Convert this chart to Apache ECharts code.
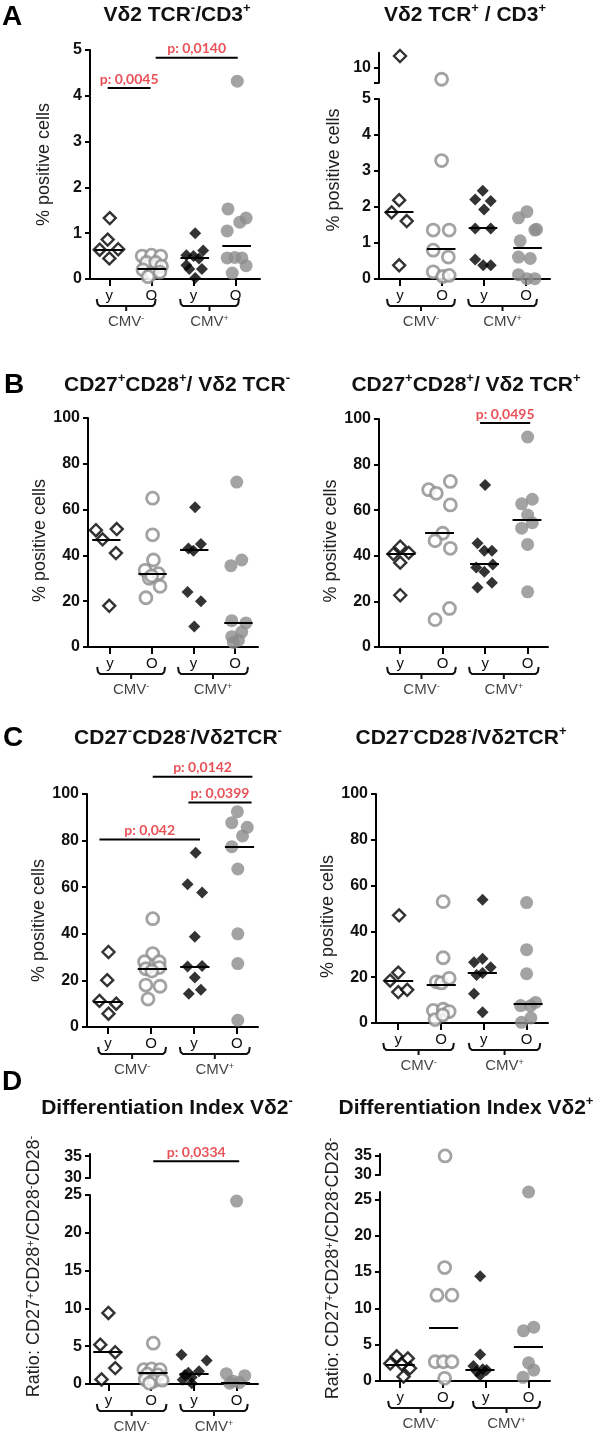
<!DOCTYPE html>
<html>
<head>
<meta charset="utf-8">
<script src="https://cdn.jsdelivr.net/npm/echarts@6/dist/echarts.min.js"></script>
<style>
html, body { margin: 0; padding: 0; background: #fff; }
#main { width: 600px; height: 1435px; }
</style>
</head>
<body>
<div id="main"></div>
<script>
// groups on the x axis: 1 = young CMV-, 2 = old CMV-, 3 = young CMV+, 4 = old CMV+
var GROUP_LABELS = ['y', 'O', 'y', 'O'];
var CMV_LABELS = ['CMV{s|-}', 'CMV{s|+}'];
var TITLES = [
    'Vδ2 TCR{s|-}/CD3{s|+}', 'Vδ2 TCR{s|+} / CD3{s|+}',
    'CD27{s|+}CD28{s|+}/ Vδ2 TCR{s|-}', 'CD27{s|+}CD28{s|+}/ Vδ2 TCR{s|+}',
    'CD27{s|-}CD28{s|-}/Vδ2TCR{s|-}', 'CD27{s|-}CD28{s|-}/Vδ2TCR{s|+}',
    'Differentiation Index Vδ2{s|-}', 'Differentiation Index Vδ2{s|+}'
];
var Y_NAMES = ['% positive cells', 'Ratio: CD27{s|+}CD28{s|+}/CD28{s|-}CD28{s|-}'];
var LETTERS = ['A', 'B', 'C', 'D'];

// A left: Vd2 TCR- / CD3+   [x slot, % positive]
var A1_yNeg = [[1.01,1.33],[0.96,0.86],[0.77,0.64],[1.21,0.65],[1.00,0.45]];
var A1_oNeg = [[1.78,0.50],[2.00,0.52],[2.22,0.50],[1.88,0.36],[2.10,0.36],[2.24,0.28],[1.80,0.20],[2.00,0.12],[2.20,0.15],[1.92,0.05]];
var A1_yPos = [[3.04,1.00],[3.23,0.62],[2.83,0.52],[3.00,0.50],[3.13,0.45],[2.83,0.30],[3.20,0.22],[2.90,0.22],[3.04,0.02]];
var A1_oPos = [[4.04,4.32],[3.82,1.53],[4.25,1.33],[4.10,1.24],[3.80,1.05],[3.80,0.46],[3.98,0.47],[4.15,0.46],[4.25,0.29],[3.92,0.13]];
var A1_medians = [0.63, 0.23, 0.47, 0.73];
var A1_pvalues = [{from:0.96, to:1.98, y:4.17, text:'p: 0,0045'}, {from:2.1, to:4.05, y:4.83, text:'p: 0,0140'}];

// A right: Vd2 TCR+ / CD3+
var A2_yNeg = [[1.00,10.78],[0.98,2.19],[0.80,1.85],[1.16,1.61],[0.98,0.38]];
var A2_oNeg = [[1.99,9.23],[1.99,3.29],[1.79,1.36],[2.17,1.36],[1.79,0.80],[2.15,0.61],[1.79,0.20],[2.02,0.07],[2.17,0.10]];
var A2_yPos = [[2.97,2.45],[2.79,2.21],[3.16,2.17],[3.00,1.93],[2.79,1.40],[3.16,1.40],[2.79,0.54],[2.98,0.38],[3.16,0.38]];
var A2_oPos = [[4.02,1.87],[3.82,1.70],[4.21,1.36],[4.25,1.38],[3.86,1.06],[3.82,0.61],[4.10,0.57],[3.82,0.12],[4.02,0.01],[4.21,0.01]];
var A2_medians = [1.87, 0.85, 1.43, 0.86];

// B left: CD27+CD28+ / Vd2 TCR-
var B1_yNeg = [[0.66,51],[0.82,47],[1.16,51.5],[1.14,41],[0.98,18]];
var B1_oNeg = [[2.02,65],[2.02,49],[2.04,38],[1.84,33.5],[1.94,30],[2.16,32],[2.20,26.5],[1.86,21.5],[2.00,31]];
var B1_yPos = [[3.04,61],[2.88,43],[3.00,42],[3.18,45],[2.86,24],[3.18,20],[3.02,9]];
var B1_oPos = [[4.04,72],[4.16,38],[3.90,35.5],[3.92,11.5],[4.26,10.5],[4.16,6.5],[3.92,4.5],[4.08,3],[3.96,2]];
var B1_medians = [47, 32, 42.5, 10.5];

// B right: CD27+CD28+ / Vd2 TCR+
var B2_yNeg = [[1.00,44],[0.84,40.8],[1.20,41.3],[1.00,37],[1.00,22.7]];
var B2_oNeg = [[1.67,69],[1.85,67.4],[2.18,72.6],[2.18,62.3],[2.00,49.9],[1.82,46.6],[2.18,43.3],[1.82,12],[2.16,16.9]];
var B2_yPos = [[3.00,71.1],[2.82,45.5],[2.98,42.2],[3.16,42.2],[2.79,34.9],[2.98,33],[3.18,36.2],[2.82,26.1],[3.16,28.2]];
var B2_oPos = [[4.00,92.1],[3.86,62.8],[4.11,64.8],[4.00,57.9],[3.86,52.1],[4.11,54.5],[4.00,45],[4.00,24.2]];
var B2_medians = [41, 50, 36.5, 56];
var B2_pvalues = [{from:2.88, to:4.06, y:98.2, text:'p: 0,0495'}];

// C left: CD27-CD28- / Vd2 TCR-
var C1_yNeg = [[1.01,32.2],[0.98,20.1],[0.80,11.2],[1.19,10.0],[1.01,5.7]];
var C1_oNeg = [[2.04,46.5],[2.04,31.5],[1.85,28],[2.19,28],[1.88,25],[2.19,25.5],[2.02,24],[1.88,18],[2.21,17.5],[1.93,12]];
var C1_yPos = [[3.04,74.8],[2.85,61.3],[3.19,57.7],[3.02,38.7],[2.85,26],[3.19,26.2],[3.02,21.2],[2.88,14.3],[3.16,16]];
var C1_oPos = [[4.01,92.4],[3.88,87.7],[4.24,85.7],[4.13,82],[3.88,77.4],[4.02,67.8],[4.02,40],[4.02,27.2],[4.02,2.9]];
var C1_medians = [10.8, 24.8, 25.8, 77.2];
var C1_pvalues = [
    {from:0.80, to:3.14, y:80.5, text:'p: 0,042'},
    {from:2.87, to:4.34, y:96.4, text:'p: 0,0399'},
    {from:2.04, to:4.36, y:107.4, text:'p: 0,0142'}
];

// C right: CD27-CD28- / Vd2 TCR+
var C2_yNeg = [[1.02,47],[1.00,22],[0.81,18.5],[1.00,13.5],[1.21,14.5]];
var C2_oNeg = [[2.05,53],[2.05,28.5],[1.89,18],[2.01,17.5],[2.19,19.5],[1.82,5.5],[2.05,6],[2.19,5],[1.86,1.5],[2.04,3.5]];
var C2_yPos = [[2.97,53.8],[2.77,26.5],[2.97,28.1],[3.16,24.3],[2.97,21.8],[2.83,21],[2.77,12.8],[2.97,4.7]];
var C2_oPos = [[4.00,52.6],[4.00,32],[4.00,21.5],[3.86,7.6],[4.21,9],[4.09,7.5],[3.88,0.3],[4.10,2.2]];
var C2_medians = [18.5, 16.8, 22, 8.2];

// D left: differentiation index Vd2-
var D1_yNeg = [[1.00,9.4],[0.81,5.2],[1.16,4.2],[1.16,2.1],[0.84,0.6]];
var D1_oNeg = [[2.05,5.4],[1.83,1.9],[2.01,2.0],[2.21,1.9],[1.91,1.3],[2.16,1.2],[1.86,0.6],[2.06,0.4],[2.26,0.5],[1.96,0.1]];
var D1_yPos = [[2.71,3.87],[3.30,3.1],[3.12,1.67],[2.79,1.2],[2.95,0.9],[2.74,0.57],[2.95,0.1],[2.87,1.5]];
var D1_oPos = [[4.00,24.2],[3.76,1.36],[4.19,1.1],[3.92,0.35],[4.07,0.2],[3.84,0.1]];
var D1_medians = [4.2, 1.5, 1.3, 0.2];
var D1_pvalues = [{from:2.05, to:4.06, y:33.85, text:'p: 0,0334'}];

// D right: differentiation index Vd2+
var D2_yNeg = [[0.92,3.4],[1.18,3.1],[0.77,2.4],[1.23,1.75],[1.04,2.3],[1.08,0.6]];
var D2_oNeg = [[2.05,35],[2.04,15.6],[1.86,11.8],[2.21,11.8],[1.82,2.65],[2.01,2.65],[2.21,2.65],[2.04,0.37]];
var D2_yPos = [[2.87,14.4],[2.87,3.66],[2.71,2.06],[3.02,1.5],[2.87,0.8],[2.93,1.6],[2.79,1.3]];
var D2_oPos = [[4.00,26],[3.88,6.9],[4.12,7.4],[4.00,2.5],[4.12,1.5],[3.87,0.5]];
var D2_medians = [2.3, 7.3, 1.6, 4.7];

var FONT = "'Liberation Sans', Arial, sans-serif";
var TICKS_5 = [0, 1, 2, 3, 4, 5];
var TICKS_100 = [0, 20, 40, 60, 80, 100];
var TICKS_25 = [0, 5, 10, 15, 20, 25];

var panels = [
    {groups:[A1_yNeg, A1_oNeg, A1_yPos, A1_oPos], medians:A1_medians, pvalues:A1_pvalues, title:TITLES[0], yName:Y_NAMES[0],
     L:{left:90, top:50, width:170, height:229, xMin:0.54, xMax:4.58, yMax:5, yTicks:TICKS_5, nameGap:37, namePad:[0,0,0,0],
        brackets:[[0.70,2.10],[2.68,4.08]], titleAt:[177,15]}},
    {groups:[A2_yNeg, A2_oNeg, A2_yPos, A2_oPos], medians:A2_medians, pvalues:[], title:TITLES[1], yName:Y_NAMES[0],
     L:{left:379, top:99, width:171, height:180, xMin:0.50, xMax:4.57, yMax:5, yTicks:TICKS_5, nameGap:36, namePad:[0,0,0,38],
        upper:{top:52.7, height:30, min:9, max:11, ticks:[9,10], labels:[10]},
        brackets:[[0.69,2.31],[2.62,4.26]], titleAt:[465,15]}},
    {groups:[B1_yNeg, B1_oNeg, B1_yPos, B1_oPos], medians:B1_medians, pvalues:[], title:TITLES[2], yName:Y_NAMES[0],
     L:{left:88, top:418, width:170, height:229, xMin:0.47, xMax:4.55, yMax:100, yTicks:TICKS_100, nameGap:35, namePad:[0,16,0,0],
        brackets:[[0.69,2.32],[2.63,4.31]], titleAt:[177,385]}},
    {groups:[B2_yNeg, B2_oNeg, B2_yPos, B2_oPos], medians:B2_medians, pvalues:B2_pvalues, title:TITLES[3], yName:Y_NAMES[0],
     L:{left:379, top:419, width:169, height:228, xMin:0.50, xMax:4.48, yMax:100, yTicks:TICKS_100, nameGap:36, namePad:[0,16,0,0],
        brackets:[[0.69,2.31],[2.62,4.26]], titleAt:[466,385]}},
    {groups:[C1_yNeg, C1_oNeg, C1_yPos, C1_oPos], medians:C1_medians, pvalues:C1_pvalues, title:TITLES[4], yName:Y_NAMES[0],
     L:{left:87, top:794, width:171, height:233, xMin:0.51, xMax:4.49, yMax:100, yTicks:TICKS_100, nameGap:34, namePad:[0,20,0,0],
        brackets:[[0.77,2.35],[2.67,4.30]], titleAt:[178,738]}},
    {groups:[C2_yNeg, C2_oNeg, C2_yPos, C2_oPos], medians:C2_medians, pvalues:[], title:TITLES[5], yName:Y_NAMES[0],
     L:{left:376, top:794, width:172, height:229, xMin:0.48, xMax:4.50, yMax:100, yTicks:TICKS_100, nameGap:33, namePad:[0,16,0,0],
        brackets:[[0.65,2.30],[2.65,4.32]], titleAt:[461,738]}},
    {groups:[D1_yNeg, D1_oNeg, D1_yPos, D1_oPos], medians:D1_medians, pvalues:D1_pvalues, title:TITLES[6], yName:Y_NAMES[1],
     L:{left:90, top:1195, width:168, height:189, xMin:0.57, xMax:4.50, yMax:25, yTicks:TICKS_25, nameGap:47, namePad:[0,0,0,46],
        upper:{top:1154, height:24, min:30, max:35.5, ticks:[30,35], labels:[30,35]},
        brackets:[[0.73,2.36],[2.68,4.26]], titleAt:[167,1108]}},
    {groups:[D2_yNeg, D2_oNeg, D2_yPos, D2_oPos], medians:D2_medians, pvalues:[], title:TITLES[7], yName:Y_NAMES[1],
     L:{left:380, top:1192, width:170, height:189, xMin:0.53, xMax:4.50, yMax:26, yTicks:TICKS_25, nameGap:38, namePad:[0,0,0,36],
        upper:{top:1154, height:21, min:30, max:35.5, ticks:[30,35], labels:[30,35]},
        brackets:[[0.72,2.24],[2.70,4.27]], titleAt:[466,1108]}}
];
var LETTER_AT = [[12,17],[14,385],[13,738],[12,1082]];

// marker styles: open diamond, open grey circle, filled diamond, filled grey circle
var STYLES = [
    {symbol:'diamond', symbolSize:12, itemStyle:{color:'#ffffff', borderColor:'#000000', borderWidth:2.4}},
    {symbol:'circle', symbolSize:12, itemStyle:{color:'#ffffff', borderColor:'#8c8c8c', borderWidth:2.8}},
    {symbol:'diamond', symbolSize:12, itemStyle:{color:'#000000'}},
    {symbol:'circle', symbolSize:13, itemStyle:{color:'#8c8c8c'}}
];
var MED_HALF = 0.34;
var ANNO_H = 48;              // strip under each x axis for brackets
var BR_END = 20, BR_BASE = 27, BR_TICK = 32, CMV_Y = 43;
var AXIS_LINE = {color:'#000', width:2};

var myChart = echarts.init(document.getElementById('main'));
var option = {
    animation: false,
    backgroundColor: '#ffffff',
    textStyle: {fontFamily: FONT},
    grid: [], xAxis: [], yAxis: [], series: [], graphic: []
};

function addGrid(box, xa, ya) {
    var i = option.grid.length;
    option.grid.push(box);
    xa.gridIndex = i; ya.gridIndex = i;
    option.xAxis.push(xa);
    option.yAxis.push(ya);
    return i;
}

function copy(o) { return JSON.parse(JSON.stringify(o)); }

function bracketPath(a, b) {
    var m = (a + b) / 2;
    return [[a, BR_END], [a + 0.02, BR_BASE - 2], [a + 0.07, BR_BASE], [m, BR_BASE], [m, BR_TICK],
            [m, BR_BASE], [b - 0.07, BR_BASE], [b - 0.02, BR_BASE - 2], [b, BR_END]];
}

panels.forEach(function (p, pi) {
    var L = p.L;
    var main = addGrid({left:L.left, top:L.top, width:L.width, height:L.height},
        {type:'value', min:L.xMin, max:L.xMax, splitLine:{show:false},
         axisLine:{show:true, onZero:false, lineStyle:AXIS_LINE},
         axisTick:{show:true, customValues:[1,2,3,4], length:7, lineStyle:AXIS_LINE},
         axisLabel:{customValues:[1,2,3,4], margin:9, fontSize:15, color:'#111',
                    formatter:function (v) { return GROUP_LABELS[Math.round(v) - 1]; }}},
        {type:'value', min:0, max:L.yMax, splitLine:{show:false},
         axisLine:{show:true, onZero:false, lineStyle:AXIS_LINE},
         axisTick:{show:true, customValues:L.yTicks, length:5, lineStyle:AXIS_LINE},
         axisLabel:{customValues:L.yTicks, margin:8, fontSize:16, fontWeight:'bold', color:'#111'},
         name:p.yName, nameLocation:'middle', nameGap:L.nameGap,
         nameTextStyle:{fontSize:18, color:'#222', padding:L.namePad,
                        rich:{s:{fontSize:11, color:'#222', verticalAlign:'top', lineHeight:10}}}});
    var anno = addGrid({left:L.left, top:L.top + L.height, width:L.width, height:ANNO_H},
        {type:'value', min:L.xMin, max:L.xMax, show:false},
        {type:'value', min:0, max:ANNO_H, inverse:true, show:false});
    var up = -1;
    if (L.upper) {
        var U = L.upper;
        up = addGrid({left:L.left, top:U.top, width:L.width, height:U.height},
            {type:'value', min:L.xMin, max:L.xMax, show:false},
            {type:'value', min:U.min, max:U.max, splitLine:{show:false},
             axisLine:{show:true, onZero:false, lineStyle:AXIS_LINE},
             axisTick:{show:true, customValues:U.ticks, length:5, lineStyle:AXIS_LINE},
             axisLabel:{customValues:U.labels, margin:8, fontSize:16, fontWeight:'bold', color:'#111'}});
    }

    // points + median bars
    p.groups.forEach(function (pts, gi) {
        var lower = pts.filter(function (d) { return d[1] <= L.yMax; });
        var upper = pts.filter(function (d) { return d[1] > L.yMax; });
        var xs = lower.map(function (d) { return d[0]; });
        var c = (Math.min.apply(null, xs) + Math.max.apply(null, xs)) / 2;
        var s = copy(STYLES[gi]);
        s.type = 'scatter'; s.xAxisIndex = main; s.yAxisIndex = main; s.data = lower;
        s.clip = false; s.silent = true; s.z = 3;
        s.markLine = {silent:true, symbol:['none','none'], label:{show:false},
                      lineStyle:{color:'#000', width:2, type:'solid'},
                      data:[[{coord:[c - MED_HALF, p.medians[gi]]}, {coord:[c + MED_HALF, p.medians[gi]]}]]};
        option.series.push(s);
        if (upper.length && up >= 0) {
            var su = copy(STYLES[gi]);
            su.type = 'scatter'; su.xAxisIndex = up; su.yAxisIndex = up; su.data = upper;
            su.clip = false; su.silent = true;
            option.series.push(su);
        }
    });

    // significance bars
    p.pvalues.forEach(function (sg) {
        var g = (up >= 0 && sg.y > L.yMax) ? up : main;
        option.series.push({type:'line', xAxisIndex:g, yAxisIndex:g, data:[[sg.from, sg.y], [sg.to, sg.y]],
            symbol:'none', clip:false, silent:true, z:4, lineStyle:{color:'#000', width:2}});
        option.series.push({type:'scatter', xAxisIndex:g, yAxisIndex:g, data:[[(sg.from + sg.to) / 2, sg.y]],
            symbolSize:0, clip:false, silent:true, z:5,
            label:{show:true, position:'top', distance:2, formatter:sg.text, color:'#e3262d',
                   fontFamily:'Lato', fontWeight:'bold', fontSize:14}});
    });

    // CMV brackets under the axis
    L.brackets.forEach(function (b) {
        option.series.push({type:'line', xAxisIndex:anno, yAxisIndex:anno, data:bracketPath(b[0], b[1]),
            symbol:'none', clip:false, silent:true, lineStyle:{color:'#111', width:2}});
    });
    option.series.push({type:'scatter', xAxisIndex:anno, yAxisIndex:anno, symbolSize:0, clip:false, silent:true,
        data:L.brackets.map(function (b) { return [(b[0] + b[1]) / 2, CMV_Y]; }),
        label:{show:true, position:'inside', fontSize:15, color:'#111',
               formatter:function (prm) { return CMV_LABELS[prm.dataIndex]; },
               rich:{s:{fontSize:9, color:'#111', verticalAlign:'top', lineHeight:8}}}});

    // panel title
    option.graphic.push({type:'text', x:L.titleAt[0], y:L.titleAt[1], silent:true,
        style:{text:p.title, fontSize:21, fontWeight:'bold', fontFamily:FONT, fill:'#111',
               align:'center', verticalAlign:'middle', lineHeight:26,
               rich:{s:{fontSize:13, fontWeight:'bold', fontFamily:FONT, fill:'#111', verticalAlign:'top', lineHeight:12}}}});
});

LETTERS.forEach(function (t, i) {
    option.graphic.push({type:'text', x:LETTER_AT[i][0], y:LETTER_AT[i][1], silent:true,
        style:{text:t, fontSize:28, fontWeight:'bold', fontFamily:FONT, fill:'#000', align:'center', verticalAlign:'middle'}});
});

myChart.setOption(option);
window.addEventListener('resize', function () { myChart.resize(); }, false);
</script>
</body>
</html>
